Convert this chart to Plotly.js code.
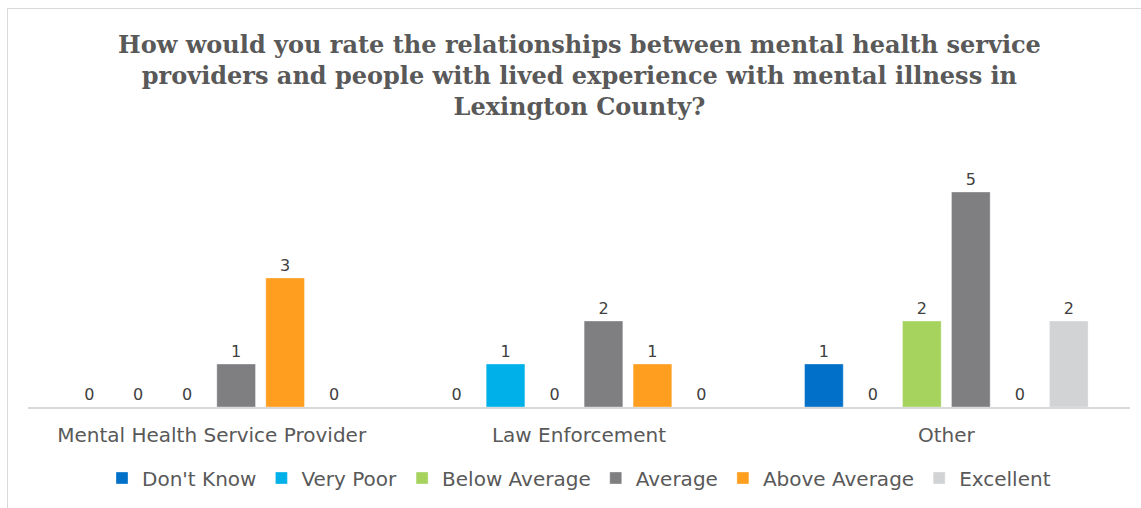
<!DOCTYPE html>
<html>
<head>
<meta charset="utf-8">
<script src="https://cdn.plot.ly/plotly-3.0.1.min.js"></script>
<style>
html,body{margin:0;padding:0;background:#fff;}
#wrap{position:relative;width:1141px;height:508px;overflow:hidden;}
#chart{width:1141px;height:508px;}
#frame{position:absolute;left:7px;top:8px;width:1200px;height:600px;border:1px solid #D9D9D9;pointer-events:none;}
</style>
</head>
<body>
<div id="wrap"><div id="chart"></div><div id="frame"></div></div>
<script>
const categories = ["Mental Health Service Provider", "Law Enforcement", "Other"];
const seriesNames = ["Don't Know", "Very Poor", "Below Average", "Average", "Above Average", "Excellent"];
const dontKnow = [0, 0, 1];
const veryPoor = [0, 1, 0];
const belowAverage = [0, 0, 2];
const average = [1, 2, 5];
const aboveAverage = [3, 1, 0];
const excellent = [0, 0, 2];
const titleText = 'How would you rate the relationships between mental health service<br>providers and people with lived experience with mental illness in<br>Lexington County?';
const colors = ["#0070C8", "#00B0E8", "#A5D35E", "#7F7F82", "#FF9E1F", "#D2D3D5"];

const seriesValues = [dontKnow, veryPoor, belowAverage, average, aboveAverage, excellent];

const traces = seriesValues.map((vals, i) => ({
  type: 'bar',
  name: seriesNames[i],
  x: categories,
  y: vals,
  text: vals.map(String),
  textposition: 'outside',
  cliponaxis: false,
  textfont: {family: 'DejaVu Sans', size: 16, color: '#404040'},
  marker: {color: colors[i], line: {color: 'rgba(255,255,255,0.35)', width: 1}},
  hoverinfo: 'x+y+name'
}));

const layout = {
  width: 1141,
  height: 508,
  paper_bgcolor: '#ffffff',
  plot_bgcolor: '#ffffff',
  margin: {l: 28, r: 11, t: 149, b: 101},
  barmode: 'group',
  bargap: 0.2,
  bargroupgap: 0.21,
  annotations: [{
    text: titleText,
    xref: 'paper', yref: 'paper',
    x: 0.5, xanchor: 'center',
    y: (407 - 28) / 258, yanchor: 'top',
    showarrow: false,
    align: 'center',
    font: {family: 'DejaVu Serif', size: 24, color: '#595959', weight: 'bold'}
  }],
  xaxis: {
    showgrid: false,
    showline: true,
    linecolor: '#D9D9D9',
    linewidth: 1.5,
    ticks: '',
    ticklabelstandoff: 9,
    tickfont: {family: 'DejaVu Sans', size: 20, color: '#595959'},
    fixedrange: true
  },
  yaxis: {
    range: [0, 6],
    visible: false,
    showgrid: false,
    zeroline: false,
    fixedrange: true
  },
  showlegend: true,
  legend: {
    orientation: 'h',
    x: 0.5, xanchor: 'center',
    y: -(478 - 407) / 258, yanchor: 'middle',
    font: {family: 'DejaVu Sans', size: 20, color: '#595959'},
    itemwidth: 30,
    traceorder: 'normal'
  },
  font: {family: 'DejaVu Sans', color: '#595959'}
};

Plotly.newPlot('chart', traces, layout, {displayModeBar: false, staticPlot: true});
</script>
</body>
</html>
